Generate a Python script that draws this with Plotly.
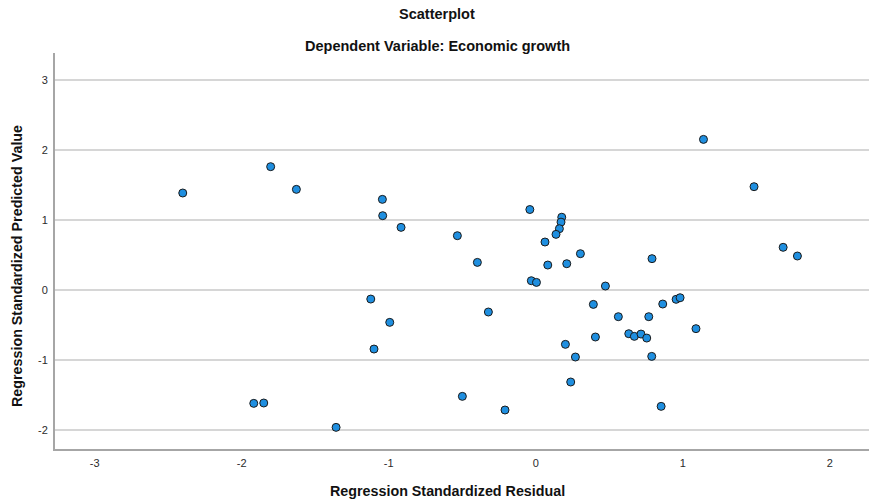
import plotly.graph_objects as go

# Regression diagnostics: standardized residual vs standardized predicted value
std_residual = [
    -2.401, -1.803, -1.628, -1.043, -1.041, -0.916, -1.122, -0.993, -1.100,
    -1.918, -1.850, -1.358,
    -0.040, 0.177, 0.172, 0.161, 0.138, -0.533, 0.063, 0.304, -0.397, 0.082,
    0.211, 0.791, -0.030, 0.005, 0.474, 0.392, -0.322, 0.864, 0.955, 0.982,
    0.562, 0.769, 1.090, 0.633, 0.671, 0.716, 0.755, 0.406, 0.202, 0.270,
    0.789, 0.238, -0.499,
    1.141, 1.485, 1.683, 1.780, 0.853, -0.209,
]
std_predicted = [
    1.386, 1.762, 1.438, 1.295, 1.062, 0.895, -0.129, -0.462, -0.843,
    -1.619, -1.614, -1.962,
    1.150, 1.040, 0.970, 0.876, 0.795, 0.776, 0.686, 0.519, 0.395, 0.357,
    0.376, 0.448, 0.133, 0.109, 0.057, -0.205, -0.314, -0.200, -0.133, -0.110,
    -0.381, -0.381, -0.552, -0.624, -0.662, -0.629, -0.686, -0.671, -0.776,
    -0.957, -0.948, -1.314, -1.519,
    2.152, 1.476, 0.610, 0.486, -1.662, -1.714,
]

x_ticks = [-3, -2, -1, 0, 1, 2]
x_tick_labels = ["-3", "-2", "-1", "0", "1", "2"]
y_ticks = [-2, -1, 0, 1, 2, 3]
y_tick_labels = ["-2", "-1", "0", "1", "2", "3"]

FONT = "Liberation Sans, Arial, sans-serif"
W, H = 871, 504
ML, MR, MT, MB = 55, 2, 53, 55


def px_x(px):
    return (px - ML) / (W - ML - MR)


def px_y(py):
    return 1 - (py - MT) / (H - MT - MB)


def label(text, x, y, size, angle=0):
    return dict(
        text=f"<b>{text}</b>", x=px_x(x), y=px_y(y), xref="paper", yref="paper",
        xanchor="center", yanchor="middle", showarrow=False, textangle=angle,
        font=dict(family=FONT, size=size, color="#111111"),
    )


fig = go.Figure(
    go.Scatter(
        x=std_residual,
        y=std_predicted,
        mode="markers",
        marker=dict(
            size=8,
            color="#1f8fe0",
            line=dict(color="#1b1b1b", width=1),
        ),
        hoverinfo="x+y",
    )
)

fig.update_layout(
    width=W,
    height=H,
    margin=dict(l=ML, r=MR, t=MT, b=MB),
    paper_bgcolor="white",
    plot_bgcolor="white",
    showlegend=False,
    font=dict(family=FONT, size=11, color="#2b2b2b"),
    xaxis=dict(
        range=[-3.27, 2.267],
        tickvals=x_ticks,
        ticktext=x_tick_labels,
        showgrid=False,
        zeroline=False,
        showline=True,
        linecolor="#a6a6a6",
        linewidth=2,
        ticks="",
        ticklabelstandoff=3,
        tickfont=dict(size=11, color="#2b2b2b"),
    ),
    yaxis=dict(
        range=[-2.271, 3.386],
        tickvals=y_ticks,
        ticktext=y_tick_labels,
        showgrid=True,
        gridcolor="#d6d6d6",
        gridwidth=1.5,
        zeroline=False,
        showline=True,
        linecolor="#a6a6a6",
        linewidth=2,
        ticks="",
        ticklabelstandoff=3,
        tickfont=dict(size=11, color="#2b2b2b"),
    ),
    annotations=[
        label("Scatterplot", 437, 14, 14.5),
        label("Dependent Variable: Economic growth", 437, 46, 14.5),
        label("Regression Standardized Residual", 447, 491, 14.3),
        label("Regression Standardized Predicted Value", 17, 266, 14.3, angle=-90),
    ],
)

fig.write_html("out.html")
